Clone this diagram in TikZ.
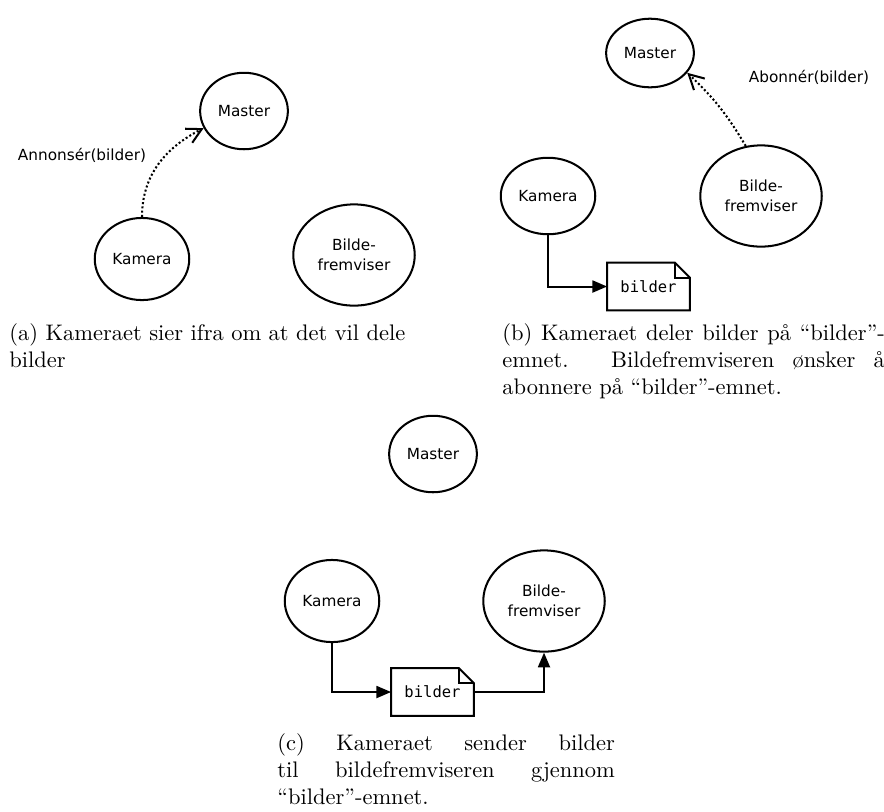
\documentclass[tikz,border=0pt]{standalone}
\usepackage{fontspec}
\newfontfamily\dejavu{DejaVu Sans}
\newfontfamily\dejavumono{DejaVu Sans Mono}
\usetikzlibrary{shapes.geometric,arrows.meta}

\tikzset{
  ros/.style={ellipse, draw, line width=0.9pt, inner sep=0pt, align=center,
    font=\dejavu\fontsize{6.8}{8.9}\selectfont},
  master/.style={ros, minimum width=39pt, minimum height=34pt},
  kamera/.style={ros, minimum width=42pt, minimum height=36.5pt},
  viser/.style={ros, minimum width=54pt, minimum height=45pt},
  melding/.style={minimum width=36.4pt, minimum height=20.9pt, inner sep=0pt,
    font=\dejavumono\fontsize{6.9}{8}\selectfont},
  publ/.style={line width=0.9pt, -{Triangle[length=6.5pt,width=5.3pt]}},
  kall/.style={line width=0.9pt, densely dotted, -{Straight Barb[length=6.5pt,width=7pt]}},
  etikett/.style={font=\dejavu\fontsize{6.8}{8}\selectfont},
  tekst/.style={text width=#1, align=justify, inner sep=0pt, anchor=base west, font=\normalsize},
  tekst/.default=175pt
}
% melding med brettet hjorne rundt noden #1
\newcommand{\notat}[1]{%
  \draw[line width=0.9pt] (#1.south west) |- ([xshift=-6.7pt]#1.north east)
    -- ([yshift=-6.7pt]#1.north east) |- cycle;
  \draw[line width=0.9pt] ([xshift=-6.7pt]#1.north east) |- ([yshift=-6.7pt]#1.north east);
}

\begin{document}
\begin{tikzpicture}[x=0.4445pt, y=0.4445pt]
  \useasboundingbox (0,0) rectangle (884,-811);

  % (a) annonsering
  \node[master] (masA) at (244,-111) {Master};
  \node[kamera] (kamA) at (142,-259) {Kamera};
  \node[viser] (visA) at (354,-255) {Bilde-\\fremviser};
  \node[etikett] (annA) at (82,-155) {Annonsér(bilder)};
  \draw[kall] (kamA.north) to[out=90, in=207] (masA.203);
  \node[tekst=176pt] (capA) at (9,-340) {(a) Kameraet sier ifra om at det vil dele\linebreak bilder};

  % (b) abonnering
  \node[master, minimum height=30.5pt] (masB) at (650,-53) {Master};
  \node[kamera, minimum height=34pt] (kamB) at (548,-196) {Kamera};
  \node[viser] (visB) at (761,-196) {Bilde-\\fremviser};
  \node[melding] (bilB) at (648.5,-286.5) {bilder};
  \node[etikett] (aboB) at (809,-77) {Abonnér(bilder)};
  \draw[kall] (visB.107) to[bend right=8] (masB.-28);
  \draw[publ] (kamB.south) |- (bilB.west);
  \notat{bilB}
  \node[tekst=170pt] (capB) at (502,-340) {(b) Kameraet deler bilder på ``bilder''-\linebreak emnet. Bildefremviseren ønsker å\linebreak abonnere på ``bilder''-emnet.};

  % (c) sending
  \node[master] (masC) at (433,-454) {Master};
  \node[kamera] (kamC) at (332,-601) {Kamera};
  \node[viser] (visC) at (544,-601) {Bilde-\\fremviser};
  \node[melding] (bilC) at (432.5,-692) {bilder};
  \draw[publ] (kamC.south) |- (bilC.west);
  \draw[publ] (bilC.east) -| (visC.south);
  \notat{bilC}
  \node[tekst=150pt] (capC) at (277,-750) {(c) Kameraet sender bilder\linebreak til bildefremviseren gjennom\linebreak ``bilder''-emnet.};
\end{tikzpicture}
\end{document}
